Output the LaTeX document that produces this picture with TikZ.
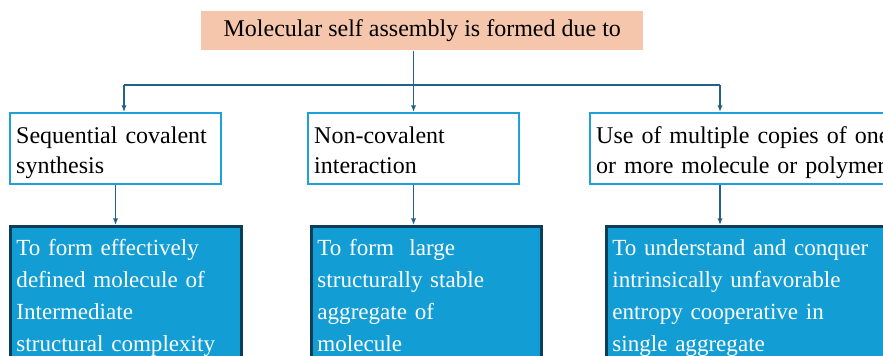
\documentclass[tikz,border=0pt]{standalone}
\usepackage{fontspec}
\setmainfont{Liberation Serif}
\usetikzlibrary{arrows.meta}
\definecolor{peach}{RGB}{246,198,172}
\definecolor{linkblue}{RGB}{33,97,138}
\definecolor{skyline}{RGB}{30,160,218}
\definecolor{aimfill}{RGB}{18,157,212}
\definecolor{navy}{RGB}{12,62,90}

\begin{document}
\begin{tikzpicture}[x=0.75pt,y=-0.75pt]
\tikzstyle{title node}=[fill=peach,anchor=north west,minimum width=331.5pt,minimum height=29.25pt,inner sep=0pt,font=\fontsize{18}{22}\selectfont]
\tikzstyle{cause node}=[draw=skyline,line width=1.8pt,fill=white,anchor=north west,align=left,inner xsep=4.5pt,inner ysep=0pt,font=\fontsize{18}{22.5}\selectfont,
  execute at begin node={\rule{0pt}{22.5pt}},execute at end node={\rule[-8.25pt]{0pt}{8.25pt}}]
\tikzstyle{aim node}=[draw=navy,line width=2.2pt,fill=aimfill,text=white,anchor=north west,align=left,inner xsep=4.5pt,inner ysep=0pt,font=\fontsize{17.3}{24}\selectfont,
  execute at begin node={\rule{0pt}{22pt}},execute at end node={\rule[-12pt]{0pt}{12pt}}]
\tikzstyle{link}=[draw=linkblue,line width=1.1pt,-{Latex[length=5pt,width=4pt]}]
\tikzstyle{bus}=[draw=linkblue,line width=2.2pt]

\useasboundingbox (0,0) rectangle (883,355);
\clip (0,0) rectangle (883,355);

\node(top)[title node] at (201,11) {Molecular self assembly is formed due to};

% causes
\node(c1)[cause node,text width=149pt] at (9,112) {Sequential covalent\\synthesis};
\node(c2)[cause node,text width=149pt] at (307,112) {Non-covalent\\interaction};
\node(c3)[cause node,text width=300pt] at (589,112) {Use of multiple copies of one\\or more molecule or polymer};

% aims
\node(a1)[aim node,text width=164pt] at (9,225) {To form effectively\\defined molecule of\\Intermediate\\structural complexity};
\node(a2)[aim node,text width=163.5pt] at (310,225) {To form \ large\\structurally stable\\aggregate of\\molecule};
\node(a3)[aim node,text width=300pt] at (605,225) {To understand and conquer\\intrinsically unfavorable\\entropy cooperative in\\single aggregate};

% branching bar
\coordinate(bl) at (124,85);
\coordinate(br) at (720,85);
\draw[bus] (bl) -- (br);
\draw[link] (c2.north |- top.south) -- (c2.north);
\draw[link] (bl) -- (bl |- c1.north);
\draw[link] (br) -- (br |- c3.north);

% cause to aim
\draw[link] (c1.south) -- (c1.south |- a1.north);
\draw[link] (c2.south) -- (c2.south |- a2.north);
\draw[link] (br |- c3.south) -- (br |- a3.north);
\end{tikzpicture}
\end{document}
